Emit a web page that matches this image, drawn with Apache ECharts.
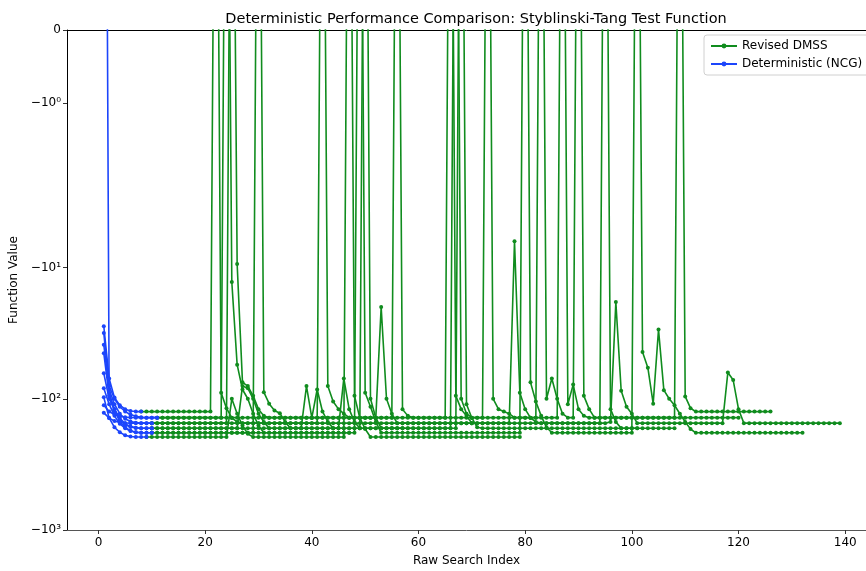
<!DOCTYPE html>
<html><head><meta charset="utf-8">
<script src="https://cdn.jsdelivr.net/npm/echarts@6/dist/echarts.min.js"></script>
<style>html,body{margin:0;padding:0;background:#fff}#c{width:866px;height:571px}</style>
</head><body><div id="c"></div>
<script>
// ---- tick labels ----
const xTicks = [0, 20, 40, 60, 80, 100, 120, 140];
const yTicks = [0, -1, -10, -100, -1000];
const yTickLabels = ['0', '\u221210\u2070', '\u221210\u00b9', '\u221210\u00b2', '\u221210\u00b3'];

// ---- Deterministic (NCG) runs, x starts at 1 ----
const ncg1 = [-28, -70, -98, -112, -120, -124, -125.2, -125.2];
const ncg2 = [-31.6, -80, -100, -115, -125, -132, -136, -138.5, -139.3, -139.3, -139.3];
const ncg3 = [-38.8, -85, -110, -130, -142, -149, -152, -153.4, -153.4, -153.4];
const ncg4 = [-64, -100, -120, -140, -155, -163, -166, -167.6, -167.6, -167.6];
const ncg5 = [-83, -110, -135, -155, -168, -176, -180, -181.7, -181.7, -181.7];
const ncg6 = [-97.5, -140, -165, -180, -190, -194, -195.8, -195.8, -195.8];
const ncg7 = [-112, -125, -132, -136, -138, -139, -139.3, -139.3, -139.3, -139.3, -139.3];
const ncg8 = [-128, -140, -148, -151, -153, -153.4, -153.4, -153.4, -153.4, -153.4];
const ncg9 = [100000, -90, -120, -150, -165, -175, -180, -181.7, -181.7, -181.7];
const ncg10 = [-45, -95, -125, -145, -158, -164, -167, -167.6, -167.6, -167.6];

// ---- Revised DMSS runs: start index + values ([value, count] = value held for count steps) ----
const dmssStart = [8, 11, 10, 10, 10, 9, 11, 10, 10, 10];
const dmss1 = [[-125.2,14], 300, -90, -118, -140, -150, [-153.4,15], 300, -80, -105, -120, -130, [-139.3,19], 300, -95, -120, -135, [-153.4,26], -150, -18.3, -87, -115, -130, [-153.4,17], -63, -72, -120, [-153.4,19]];
const dmss2 = [[-139.3,13], 300, -12.9, -55, -85, -100, -130, -160, [-181.7,18], 300, -90, -115, -150, [-181.7,27], 300, -75, -105, -135, -165, [-181.7,16], 300, -44, -58, -109, -29.7, -86, -100, -112, -130, -150, -170, [-181.7,21]];
const dmss3 = [[-153.4,15], 300, -9.4, -75, -80, -95, -120, -135, [-139.3,24], 300, -120, -135, [-139.3,14], 300, -100, -120, -125, -130, [-139.3,9], 300, -110, -78, -120, -135, [-139.3,17], 300, -96, -118, [-125.2,15]];
const dmss4 = [[-167.6,17], -80, -83, -100, -130, -150, [-167.6,7], -80, -140, -85, -125, -150, [-167.6,23], 300, -100, -130, [-139.3,13], 300, -100, -70, -100, -130, [-139.3,2], 300, -95, -120, [-139.3,28]];
const dmss5 = [[-181.7,20], 300, -89, -109, -123, -129, -150, [-167.6,10], -70, -120, -150, -167.6, 300, -100, -140, [-167.6,15], 300, -110, -140, -165, [-167.6,37]];
const dmss6 = [[-195.8,16], -100, -130, -160, -185, [-195.8,18], 300, -95, -140, -170, [-195.8,29]];
const dmss7 = [[-139.3,42], -20, -100, -130, [-153.4,15]];
const dmss8 = [[-153.4,68], -6.3, -90, -120, -140, -150, [-153.4,12], 300, -120, -150, [-167.6,4]];
const dmss9 = [[-181.7,38]];
const dmss10 = [[-167.6,48]];

const ncgRuns = [ncg1, ncg2, ncg3, ncg4, ncg5, ncg6, ncg7, ncg8, ncg9, ncg10];
const dmssRuns = [dmss1, dmss2, dmss3, dmss4, dmss5, dmss6, dmss7, dmss8, dmss9, dmss10];

// symlog transform (base 10, linthresh 2, linscale 1), in decade units
const LT = 2, LA = 1 / (1 - 0.1);
function T(v) {
  const s = Math.sign(v), a = Math.abs(v);
  return s * (a <= LT ? a * LA / LT : LA + Math.log10(a / LT));
}
function expand(start, segs) {
  const out = []; let x = start;
  for (const s of segs) {
    if (Array.isArray(s)) { for (let i = 0; i < s[1]; i++) out.push([x++, T(s[0])]); }
    else out.push([x++, T(s)]);
  }
  return out;
}

const GREEN = '#108c1e', BLUE = '#1c45fb';
const FONT = 'DejaVu Sans';
const series = [];
dmssRuns.forEach((r, i) => series.push({
  name: 'Revised DMSS', type: 'line', data: expand(dmssStart[i], r),
  symbol: 'circle', symbolSize: 4, showSymbol: true, clip: true,
  lineStyle: { width: 1.6, color: GREEN }, itemStyle: { color: GREEN }, z: 2
}));
ncgRuns.forEach((r) => series.push({
  name: 'Deterministic (NCG)', type: 'line', data: expand(1, r),
  symbol: 'circle', symbolSize: 4, showSymbol: true, clip: true,
  lineStyle: { width: 1.6, color: BLUE }, itemStyle: { color: BLUE }, z: 3
}));

const yTickT = yTicks.map(T);
const chart = echarts.init(document.getElementById('c'), null, { renderer: 'canvas' });
chart.setOption({
  animation: false,
  backgroundColor: '#fff',
  textStyle: { fontFamily: FONT },
  title: {
    text: 'Deterministic Performance Comparison: Styblinski-Tang Test Function',
    left: 471, top: 7, textAlign: 'center',
    textStyle: { fontFamily: FONT, fontSize: 14.5, fontWeight: 'normal', color: '#000' }
  },
  legend: {
    data: ['Revised DMSS', 'Deterministic (NCG)'],
    orient: 'vertical', left: 704, top: 35,
    itemWidth: 26, itemHeight: 6, itemGap: 6,
    padding: [5, 12, 5, 6],
    borderColor: '#d0d0d0', borderWidth: 1, borderRadius: 3,
    backgroundColor: 'rgba(255,255,255,0.85)',
    textStyle: { fontFamily: FONT, fontSize: 12, color: '#000' }
  },
  grid: { left: 67, top: 30, right: 0, bottom: 41, containLabel: false, outerBoundsMode: 'none' },
  xAxis: [{
    type: 'value', min: -5.9, max: 143.9,
    name: 'Raw Search Index', nameLocation: 'middle', nameGap: 25,
    nameTextStyle: { fontFamily: FONT, fontSize: 12, color: '#000' },
    axisLine: { show: true, onZero: false, lineStyle: { color: '#555', width: 1 } },
    axisTick: { show: true, customValues: xTicks, length: 4, lineStyle: { color: '#333' } },
    axisLabel: { customValues: xTicks, fontFamily: FONT, fontSize: 12, color: '#000', margin: 7 },
    splitLine: { show: false }
  }, {
    type: 'value', min: -5.9, max: 143.9, position: 'top',
    axisLine: { show: true, onZero: false, lineStyle: { color: '#000', width: 1 } },
    axisTick: { show: false }, axisLabel: { show: false }, splitLine: { show: false }
  }],
  yAxis: {
    type: 'value', min: T(-1000), max: 0,
    name: 'Function Value', nameLocation: 'middle', nameGap: 45, nameRotate: 90,
    nameTextStyle: { fontFamily: FONT, fontSize: 12, color: '#000' },
    axisLine: { show: true, onZero: false, lineStyle: { color: '#000', width: 1 } },
    axisTick: { show: true, customValues: yTickT, length: 4, lineStyle: { color: '#333' } },
    axisLabel: {
      customValues: yTickT, fontFamily: FONT, fontSize: 12, color: '#000', margin: 6,
      formatter: (v) => {
        for (let i = 0; i < yTickT.length; i++) if (Math.abs(yTickT[i] - v) < 1e-6) return yTickLabels[i];
        return '';
      }
    },
    splitLine: { show: false }
  },
  series: series
});
</script></body></html>
